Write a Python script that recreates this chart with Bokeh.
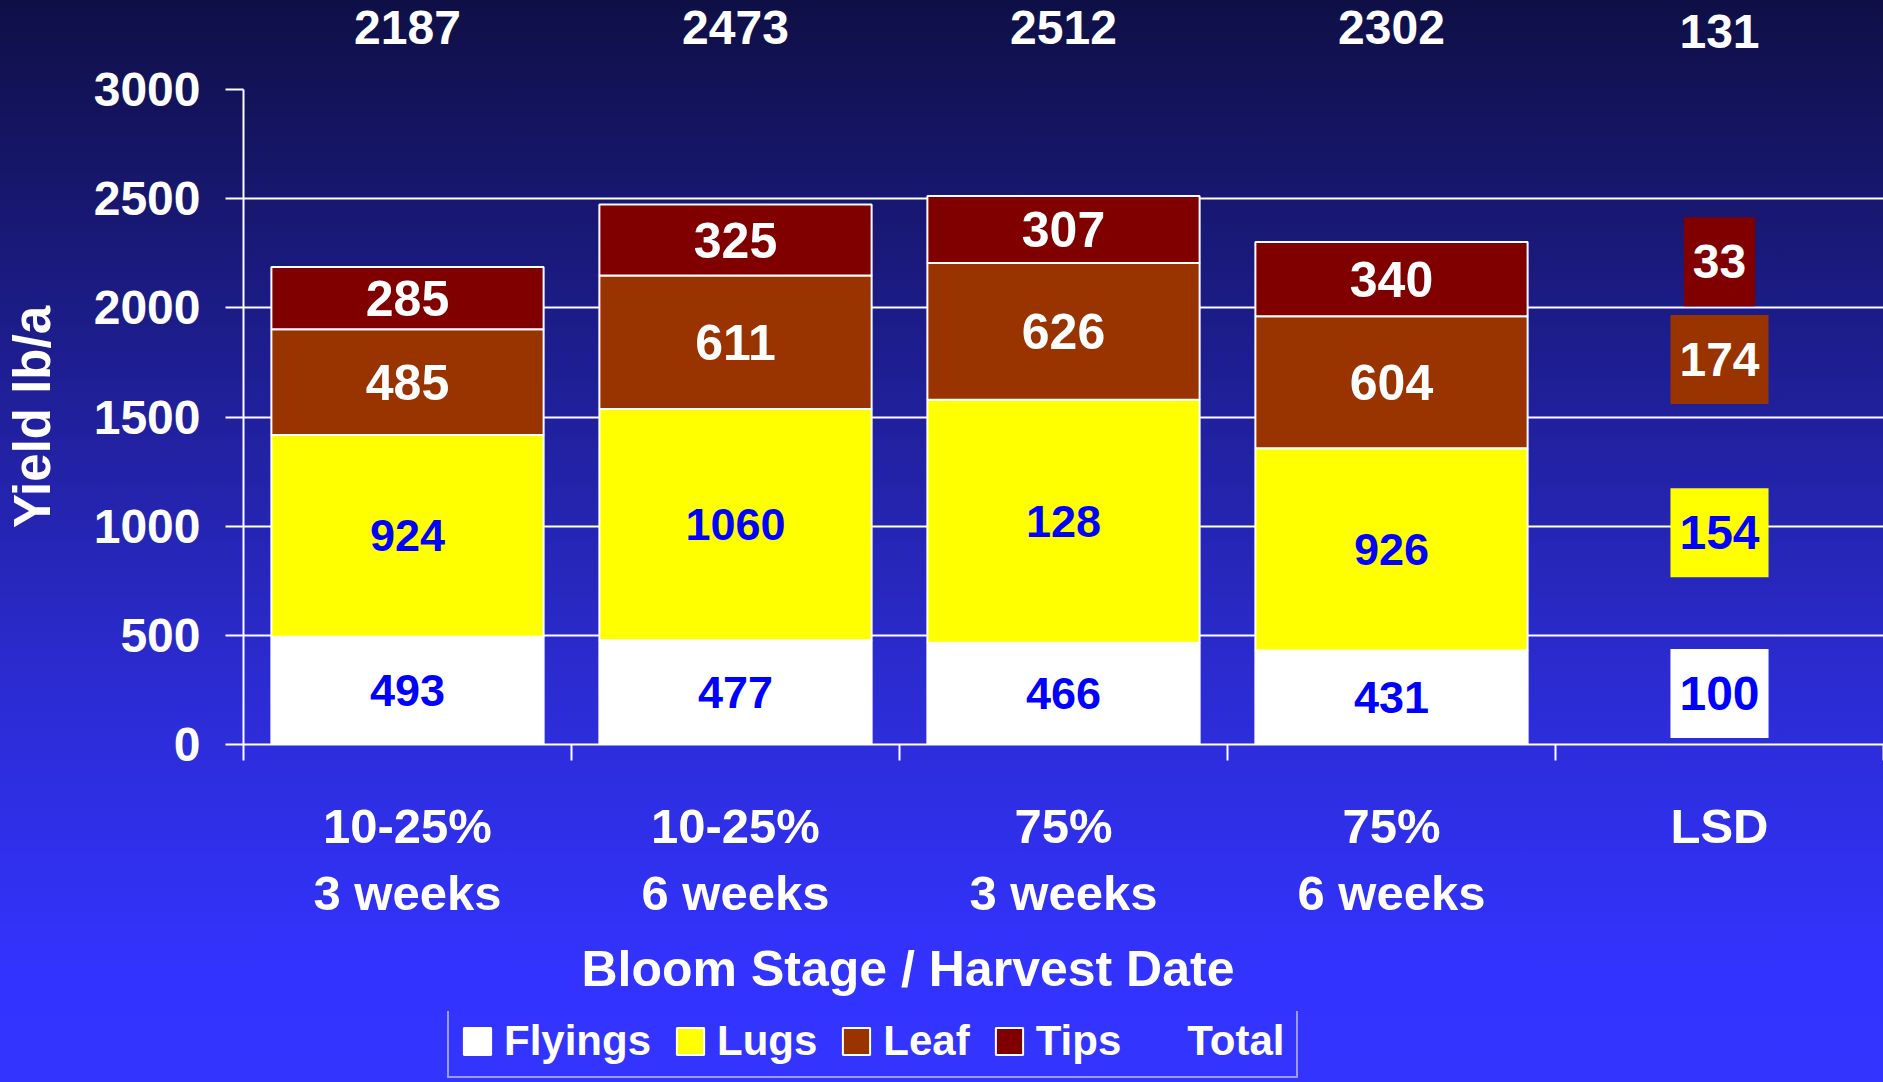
from bokeh.plotting import figure
from bokeh.layouts import column
from bokeh.models import (ColumnDataSource, Range1d, FixedTicker,
                          Legend, LegendItem, Title, GlobalInlineStyleSheet)
from bokeh.core.properties import value
from bokeh.embed import file_html
from bokeh.resources import INLINE

# ---------------- data ----------------
categories = ["10-25%\n3 weeks", "10-25%\n6 weeks", "75%\n3 weeks", "75%\n6 weeks", "LSD"]
components = ["Flyings", "Lugs", "Leaf", "Tips"]
flyings = [493, 477, 466, 431]
lugs = [924, 1060, 1113, 926]
leaf = [485, 611, 626, 604]
tips = [285, 325, 307, 340]
lugs_labels = ["924", "1060", "128", "926"]          # as printed on the chart
totals = [2187, 2473, 2512, 2302]
lsd_values = [100, 154, 174, 33]                      # Flyings, Lugs, Leaf, Tips
lsd_total = 131
y_ticks = [0, 500, 1000, 1500, 2000, 2500, 3000]

colors = ["#ffffff", "#ffff00", "#993300", "#800000"]
label_colors = ["#0000ff", "#0000ff", "#ffffff", "#ffffff"]
FONT_NAME = "Liberation Sans"
FONT = value(FONT_NAME)
W = 1883

n_cat = len(categories)
n_trt = len(flyings)
centers = [i + 0.5 for i in range(n_cat)]
x_range = Range1d(0, n_cat)


def bare(fig):
    fig.background_fill_alpha = 0
    fig.border_fill_alpha = 0
    fig.outline_line_alpha = 0
    fig.title.visible = False
    return fig


# ---------------- strip with the totals ----------------
top = bare(figure(width=W, height=60, output_backend="svg", toolbar_location=None,
                  x_range=x_range, y_range=Range1d(0, 1), x_axis_type=None, y_axis_type=None,
                  min_border_left=241, min_border_right=0, min_border_top=0, min_border_bottom=0))
top.text(x=centers[:n_trt], y=[0.5] * n_trt, text=[str(v) for v in totals], y_offset=-3,
         text_color="white", text_font=FONT, text_font_style="bold", text_font_size="48px",
         text_align="center", text_baseline="middle")
top.text(x=centers[n_trt:], y=[0.5], text=[str(lsd_total)], y_offset=1,
         text_color="white", text_font=FONT, text_font_style="bold", text_font_size="48px",
         text_align="center", text_baseline="middle")

# ---------------- main chart ----------------
p = bare(figure(width=W, height=951, output_backend="svg", toolbar_location=None,
                x_range=x_range, y_range=Range1d(0, y_ticks[-1]),
                min_border_left=241, min_border_right=0, min_border_top=29,
                min_border_bottom=266))

p.xgrid.visible = False
p.ygrid.grid_line_color = "white"
p.ygrid.grid_line_width = 2

ya = p.yaxis[0]
ya.ticker = FixedTicker(ticks=y_ticks)
ya.axis_line_color = "white"
ya.axis_line_width = 2
ya.major_tick_line_color = "white"
ya.major_tick_line_width = 2
ya.major_tick_out = 18
ya.major_tick_in = 0
ya.minor_tick_line_color = None
ya.major_label_text_color = "white"
ya.major_label_text_font = FONT_NAME
ya.major_label_text_font_style = "bold"
ya.major_label_text_font_size = "48px"
ya.major_label_standoff = 25
ya.axis_label = "Yield lb/a"
ya.axis_label_text_color = "white"
ya.axis_label_text_font = FONT_NAME
ya.axis_label_text_font_style = "bold"
ya.axis_label_text_font_size = "51px"
ya.axis_label_standoff = 30

xa = p.xaxis[0]
xa.ticker = FixedTicker(ticks=centers, minor_ticks=list(range(n_cat + 1)))
xa.major_label_overrides = {c: lab for c, lab in zip(centers, categories)}
xa.axis_line_color = "white"
xa.axis_line_width = 2
xa.major_tick_line_color = None
xa.major_tick_out = 0
xa.major_tick_in = 0
xa.minor_tick_line_color = "white"
xa.minor_tick_line_width = 2
xa.minor_tick_out = 16
xa.minor_tick_in = 0
xa.major_label_text_color = "white"
xa.major_label_text_font = FONT_NAME
xa.major_label_text_font_style = "bold"
xa.major_label_text_font_size = "49px"
xa.major_label_text_line_height = 1.25
xa.major_label_standoff = 38

src = ColumnDataSource(dict(x=centers[:n_trt], Flyings=flyings, Lugs=lugs, Leaf=leaf, Tips=tips))
p.vbar_stack(components, x="x", width=0.83, source=src,
             fill_color=colors, line_color="white", line_width=2)

# segment labels at segment centres
series = [flyings, lugs, leaf, tips]
texts = [[str(v) for v in flyings], lugs_labels, [str(v) for v in leaf], [str(v) for v in tips]]
groups = {"#0000ff": ([], [], []), "#ffffff": ([], [], [])}
for i in range(n_trt):
    base = 0
    for k in range(len(components)):
        v = series[k][i]
        gx, gy, gt = groups[label_colors[k]]
        gx.append(centers[i])
        gy.append(base + v / 2)
        gt.append(texts[k][i])
        base += v
for col, size in (("#0000ff", "45px"), ("#ffffff", "50px")):
    gx, gy, gt = groups[col]
    p.text(x=gx, y=gy, text=gt, text_color=col, text_font=FONT, text_font_style="bold",
           text_font_size=size, text_align="center", text_baseline="middle")

# LSD boxes, placed at the segment centres of the mean stack
means = [sum(s) / n_trt for s in series]
sx, sy, st, sc, sb = [], [], [], [], []
base = 0
for k in range(len(components)):
    sx.append(centers[-1])
    sy.append(base + means[k] / 2)
    st.append(str(lsd_values[k]))
    sc.append(label_colors[k])
    sb.append(colors[k])
    base += means[k]
p.text(x=sx, y=sy, text=st, text_color=sc, background_fill_color=sb,
       padding=(9, 28), text_font=FONT, text_font_style="bold",
       text_font_size="48px", text_align="center", text_baseline="middle")

p.add_layout(Title(text="Bloom Stage / Harvest Date", align="left", offset=338,
                   text_color="white", text_font=FONT_NAME, text_font_style="bold",
                   text_font_size="50px", standoff=30), "below")

# ---------------- legend strip ----------------
leg_fig = bare(figure(width=W, height=71, output_backend="svg", toolbar_location=None,
                      x_range=Range1d(0, 1), y_range=Range1d(-2, -1),
                      x_axis_type=None, y_axis_type=None,
                      min_border_left=0, min_border_right=0, min_border_top=0, min_border_bottom=0))
proxies = leg_fig.vbar_stack(components, x="x", width=0.83, source=src,
                             fill_color=colors, line_color="white", line_width=2)
tot_src = ColumnDataSource(dict(x=centers[:n_trt], top=totals))
tot_r = leg_fig.vbar(x="x", top="top", width=0.83, source=tot_src, fill_alpha=0, line_alpha=0)
for r in proxies + [tot_r]:
    r.visible = False

items = [LegendItem(label=c, renderers=[r]) for c, r in zip(components, proxies)]
items.append(LegendItem(label="Total", renderers=[tot_r]))
leg = Legend(items=items, orientation="horizontal", location=(204, 4),
             label_text_color="white", label_text_font=FONT_NAME,
             label_text_font_style="bold", label_text_font_size="42px",
             glyph_width=34, glyph_height=34, label_standoff=10, spacing=22,
             padding=11, margin=0, border_line_color="white", border_line_width=2,
             background_fill_alpha=0, inactive_fill_alpha=0)
leg_fig.add_layout(leg, "center")

layout = column(top, p, leg_fig, spacing=0)
layout.styles = {"background": "linear-gradient(to bottom, #0f0f46 0%, #1d1d8e 32%, #2b2bd0 62%, #3333ff 90%, #3434ff 100%)"}
layout.stylesheets = [GlobalInlineStyleSheet(
    css="html, body { margin: 0 !important; padding: 0 !important; overflow: hidden; background: #3434ff; }")]

open("out.html", "w").write(file_html(layout, INLINE))
